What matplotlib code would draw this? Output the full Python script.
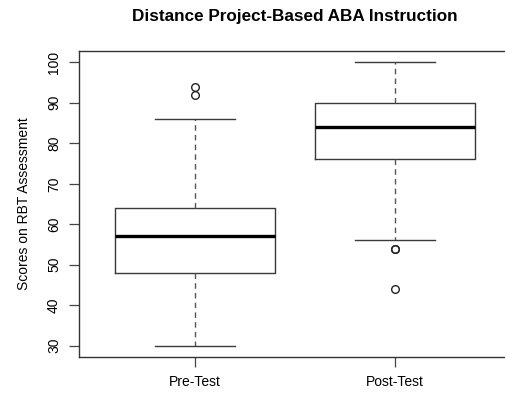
import matplotlib
matplotlib.use("Agg")
import matplotlib.pyplot as plt

# Box summary (R-style boxplot)
groups = ["Pre-Test", "Post-Test"]
q1 = [48, 76]
medians = [57, 84]
q3 = [64, 90]
whisker_low = [30, 56]
whisker_high = [86, 100]
outliers = [[92, 94], [54, 54, 44]]
y_ticks = [30, 40, 50, 60, 70, 80, 90, 100]

plt.rcParams["font.family"] = ["Liberation Sans", "DejaVu Sans"]

stats = []
for i, name in enumerate(groups):
    stats.append(
        {
            "label": name,
            "q1": q1[i],
            "med": medians[i],
            "q3": q3[i],
            "whislo": whisker_low[i],
            "whishi": whisker_high[i],
            "fliers": outliers[i],
        }
    )

W, H = 506, 394
fig = plt.figure(figsize=(W / 100, H / 100), dpi=100)
# axes box: left 79px, right ~511px (cropped off the image), top 51px, bottom 357px
ax = fig.add_axes([79 / W, (H - 357) / H, (511 - 79) / W, (357 - 51) / H])

edge = "#3a3a3a"
ax.bxp(
    stats,
    positions=[1, 2],
    widths=0.8,
    showfliers=True,
    boxprops=dict(color=edge, linewidth=1.0),
    medianprops=dict(color="black", linewidth=2.4, solid_capstyle="butt"),
    whiskerprops=dict(color="#555555", linewidth=1.0, linestyle=(0, (4, 3))),
    capprops=dict(color=edge, linewidth=1.0),
    flierprops=dict(marker="o", markerfacecolor="none", markeredgecolor="#222222",
                    markersize=5.5, markeredgewidth=1.0),
    capwidths=0.4,
)

ax.set_xlim(0.42, 2.58)
ax.set_ylim(27.2, 102.8)
ax.set_yticks(y_ticks)
ax.set_yticklabels([str(v) for v in y_ticks], rotation=90, va="center", fontsize=10)
ax.set_xticks([1, 2])
ax.set_xticklabels(groups, fontsize=10)
ax.tick_params(axis="both", length=7, width=0.9, color="#444444", pad=6)

for side in ["left", "bottom", "top"]:
    ax.spines[side].set_color("#333333")
    ax.spines[side].set_linewidth(1.0)
ax.spines["right"].set_visible(False)

ax.set_ylabel("Scores on RBT Assessment", fontsize=10)
ax.yaxis.set_label_coords((31 - 79) / (511 - 79), 0.5)
fig.text(295 / W, 1 - 16 / H, "Distance Project-Based ABA Instruction",
         ha="center", va="center", fontsize=12.3, fontweight="bold")

fig.savefig("out.png", dpi=100)
